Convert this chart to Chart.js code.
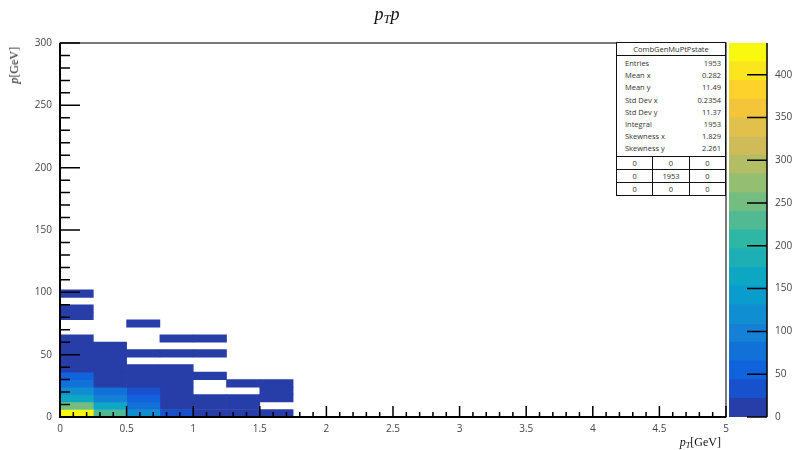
<!DOCTYPE html>
<html lang="en">
  <head>
    <meta charset="UTF-8" />
    <script src="https://cdn.jsdelivr.net/npm/chart.js"></script>
    <title>CombGenMuPtPstate</title>
    <style>
      body { margin: 0; background: #fff; }
      #page { position: relative; width: 795px; height: 450px; overflow: hidden; }
      #main { position: absolute; left: 0; top: 0; }
      #zbar { position: absolute; left: 729px; top: 0; }
      .tex { position: absolute; font-family: "Liberation Serif", "DejaVu Serif", serif; color: #111; white-space: nowrap; }
      .tex sub { font-size: 70%; vertical-align: -0.25em; }
      #title { left: 0; width: 774px; top: 4px; text-align: center; font-size: 18px; font-style: italic; }
      #xtitle { right: 74px; top: 435px; font-size: 12px; }
      #ytitle { left: 7px; top: 47px; font-size: 12px; writing-mode: vertical-rl; transform: rotate(180deg); }
      #stats { position: absolute; left: 616px; top: 42px; width: 108px; border: 1px solid #111; background: #fff;
               font-family: "Open Sans", sans-serif; font-size: 7.5px; color: #333; }
      #stats .head { height: 12px; line-height: 12px; text-align: center; border-bottom: 1px solid #111; }
      #stats .row { height: 12.2px; line-height: 12.2px; padding: 0 4px 0 8px; display: flex; justify-content: space-between; }
      #stats .rowsBox { padding: 1px 0 1px 0; border-bottom: 1px solid #111; }
      #stats .grid { display: flex; height: 12px; line-height: 12px; }
      #stats .grid + .grid { border-top: 1px solid #111; }
      #stats .grid div { flex: 1; text-align: center; }
      #stats .grid div + div { border-left: 1px solid #111; }
    </style>
  </head>
  <body>
    <div id="page">
      <canvas id="main" width="795" height="450"></canvas>
      <canvas id="zbar" width="66" height="450"></canvas>
      <div id="title" class="tex">p<sub>T</sub>p</div>
      <div id="xtitle" class="tex"><i>p</i><sub><i>T</i></sub>[GeV]</div>
      <div id="ytitle" class="tex"><i>p</i>[GeV]</div>
      <div id="stats"></div>
    </div>
    <script>
      // pT bin edges [GeV], p bins are 6 GeV wide starting at 0
      const ptEdges = [0, 0.25, 0.5, 0.75, 1, 1.25, 1.5, 1.75];
      const pBinWidth = 6;

      // entries per pT column, index = p bin (0-6, 6-12, 12-18, ...)
      const countsPt0 = [437, 242, 155, 110, 68, 46, 15, 6, 3, 2, 1, 0, 0, 1, 1, 0, 1];
      const countsPt1 = [220, 154, 90, 67, 11, 4, 2, 1, 1, 1];
      const countsPt2 = [110, 67, 46, 35, 2, 1, 1, 0, 1, 0, 0, 0, 1];
      const countsPt3 = [28, 1, 1, 1, 1, 1, 1, 0, 1, 0, 1];
      const countsPt4 = [1, 1, 1, 0, 0, 1, 0, 0, 1, 0, 1];
      const countsPt5 = [1, 1, 1, 0, 1];
      const countsPt6 = [1, 0, 1, 1, 1];
      const columns = [countsPt0, countsPt1, countsPt2, countsPt3, countsPt4, countsPt5, countsPt6];

      // colour scale
      const zMax = 437;
      const nContours = 20;

      // stats box
      const statsTitle = "CombGenMuPtPstate";
      const statsLabels = ["Entries", "Mean x", "Mean y", "Std Dev x", "Std Dev y", "Integral", "Skewness x", "Skewness y"];
      const statsValues = ["1953", "0.282", "11.49", "0.2354", "11.37", "1953", "1.829", "2.261"];
      const overflowCells = [["0", "0", "0"], ["0", "1953", "0"], ["0", "0", "0"]];

      // ROOT kBird palette
      const birdStops = [0, 0.125, 0.25, 0.375, 0.5, 0.625, 0.75, 0.875, 1];
      const birdR = [0.2082, 0.0592, 0.078, 0.0232, 0.1802, 0.5301, 0.8186, 0.9956, 0.9764];
      const birdG = [0.1664, 0.3599, 0.5041, 0.6419, 0.7178, 0.7492, 0.7328, 0.7862, 0.9832];
      const birdB = [0.5293, 0.8684, 0.8385, 0.7914, 0.6425, 0.4662, 0.3499, 0.1968, 0.0539];

      function birdColor(f) {
        let s = 1;
        while (s < birdStops.length - 1 && f > birdStops[s]) s++;
        const t = (f - birdStops[s - 1]) / (birdStops[s] - birdStops[s - 1]);
        const c = (arr) => Math.round(255 * (arr[s - 1] + t * (arr[s] - arr[s - 1])));
        return "rgb(" + c(birdR) + "," + c(birdG) + "," + c(birdB) + ")";
      }
      function bandColor(i) {
        const c = Math.floor(((i + 0.99) * 255) / nContours);
        return birdColor(c / 255);
      }
      function binColor(z) {
        let i = Math.floor(0.01 + (z * nContours) / zMax);
        if (i > nContours - 1) i = nContours - 1;
        return bandColor(i);
      }

      const tickFont = { family: "'Open Sans', sans-serif", size: 10 };
      const tickColor = "#444";
      const plainNum = (v) => String(Number(v.toFixed(2)));

      const datasets = columns.map((col, j) => {
        const data = [];
        col.forEach((z, k) => {
          if (z > 0) data.push({ x: [ptEdges[j], ptEdges[j + 1]], y: (k + 0.5) * pBinWidth, z: z });
        });
        return {
          data: data,
          grouped: false,
          barPercentage: 1,
          categoryPercentage: 1,
          borderWidth: 0,
          backgroundColor: data.map((d) => binColor(d.z)),
        };
      });

      // ROOT style inner ticks + frame
      const rootAxes = {
        id: "rootAxes",
        afterDatasetsDraw(chart) {
          const { ctx, chartArea: a, scales } = chart;
          const x = scales.x, y = scales.y;
          ctx.save();
          ctx.strokeStyle = "#222";
          ctx.lineWidth = 1.2;
          ctx.strokeRect(a.left, a.top, a.right - a.left, a.bottom - a.top);
          ctx.strokeStyle = "#000";
          ctx.lineWidth = 1.5;
          ctx.beginPath();
          for (let i = 0; i <= 30; i++) {
            const py = y.getPixelForValue(i * 10);
            ctx.moveTo(a.left, py);
            ctx.lineTo(a.left + (i % 5 === 0 ? 20 : 10), py);
          }
          for (let i = 0; i <= 50; i++) {
            const px = x.getPixelForValue(i * 0.1);
            ctx.moveTo(px, a.bottom);
            ctx.lineTo(px, a.bottom - (i % 5 === 0 ? 11 : 5));
          }
          ctx.stroke();
          ctx.lineWidth = 2;
          ctx.beginPath();
          ctx.moveTo(a.left, a.top);
          ctx.lineTo(a.left, a.bottom);
          ctx.lineTo(a.right, a.bottom);
          ctx.stroke();
          ctx.restore();
        },
      };

      new Chart(document.getElementById("main"), {
        type: "bar",
        data: { datasets: datasets },
        options: {
          responsive: false,
          animation: false,
          indexAxis: "y",
          layout: { padding: { left: 0, top: 43, right: 69, bottom: 0 } },
          plugins: { legend: { display: false }, tooltip: { enabled: false } },
          scales: {
            x: {
              type: "linear",
              min: 0,
              max: 5,
              offset: false,
              ticks: { stepSize: 0.5, padding: 6, font: tickFont, color: tickColor, maxRotation: 0, autoSkip: false, callback: plainNum },
              grid: { display: false, drawTicks: false },
              border: { display: false },
              afterFit: (s) => { s.height = 33; },
            },
            y: {
              type: "linear",
              min: 0,
              max: 300,
              offset: false,
              ticks: { stepSize: 50, padding: 8, font: tickFont, color: tickColor, callback: plainNum },
              grid: { display: false, drawTicks: false },
              border: { display: false },
              afterFit: (s) => { s.width = 60; },
            },
          },
        },
        plugins: [rootAxes],
      });

      // palette
      const bandDatasets = [];
      for (let i = 0; i < nContours; i++) {
        bandDatasets.push({
          data: [[(i * zMax) / nContours, ((i + 1) * zMax) / nContours]],
          backgroundColor: bandColor(i),
          grouped: false,
          barPercentage: 1,
          categoryPercentage: 1,
          borderWidth: 0,
        });
      }

      const paletteAxis = {
        id: "paletteAxis",
        afterDatasetsDraw(chart) {
          const { ctx, chartArea: a, scales } = chart;
          const y = scales.y;
          ctx.save();
          ctx.strokeStyle = "#000";
          ctx.lineWidth = 1.5;
          ctx.beginPath();
          ctx.moveTo(a.right, a.top);
          ctx.lineTo(a.right, a.bottom);
          for (let v = 0; v <= 400; v += 50) {
            const py = y.getPixelForValue(v);
            ctx.moveTo(a.right - 20, py);
            ctx.lineTo(a.right, py);
          }
          ctx.stroke();
          ctx.restore();
        },
      };

      new Chart(document.getElementById("zbar"), {
        type: "bar",
        data: { labels: ["z"], datasets: bandDatasets },
        options: {
          responsive: false,
          animation: false,
          layout: { padding: { left: 0, top: 43, right: 0, bottom: 33 } },
          plugins: { legend: { display: false }, tooltip: { enabled: false } },
          scales: {
            x: { display: false },
            y: {
              position: "right",
              min: 0,
              max: zMax,
              ticks: { stepSize: 50, includeBounds: false, padding: 8, font: tickFont, color: tickColor },
              grid: { display: false, drawTicks: false },
              border: { display: false },
              afterFit: (s) => { s.width = 28; },
            },
          },
        },
        plugins: [paletteAxis],
      });

      // stats box text
      const stats = document.getElementById("stats");
      let html = '<div class="head">' + statsTitle + '</div><div class="rowsBox">';
      statsLabels.forEach((lab, i) => {
        html += '<div class="row"><span>' + lab + "</span><span>" + statsValues[i] + "</span></div>";
      });
      html += "</div>";
      overflowCells.forEach((r) => {
        html += '<div class="grid">' + r.map((c) => "<div>" + c + "</div>").join("") + "</div>";
      });
      stats.innerHTML = html;
    </script>
  </body>
</html>
